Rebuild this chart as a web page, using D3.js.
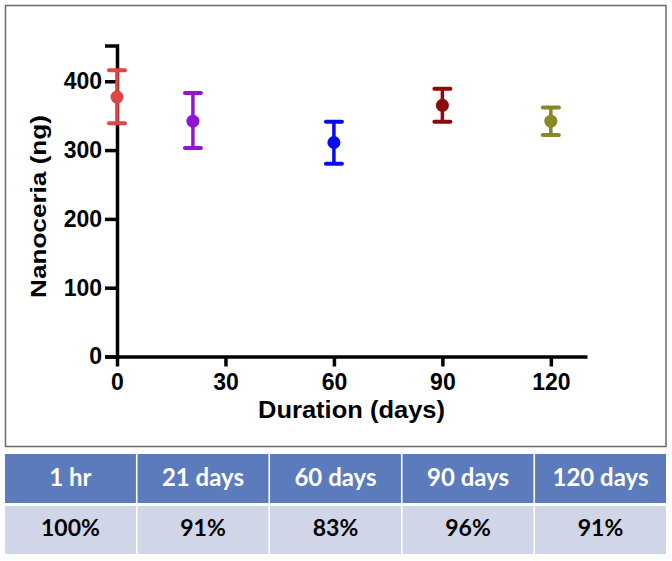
<!DOCTYPE html>
<html>
<head>
<meta charset="utf-8">
<script src="https://cdn.jsdelivr.net/npm/d3@7"></script>
<style>
  body { margin: 0; background: #fff; }
  svg { display: block; }
</style>
</head>
<body>
<div id="chart"></div>
<script>
// data
var days = [0, 21, 60, 90, 120];
var means = [377, 342, 311, 365, 342];
var upper = [416, 383, 341, 389, 362];
var lower = [339, 303, 280, 341, 322];
var colors = ["#dc4646", "#9214d8", "#0a0af0", "#8c0a0a", "#888826"];

var xTicks = [0, 30, 60, 90, 120];
var yTicks = [0, 100, 200, 300, 400];

var tableHeaders = ["1 hr", "21 days", "60 days", "90 days", "120 days"];
var retention = ["100%", "91%", "83%", "96%", "91%"];

var W = 672, H = 561;

var svg = d3.select("#chart")
  .append("svg")
  .attr("width", W)
  .attr("height", H);

// outer frame round the plot
svg.append("rect")
  .attr("x", 5.5)
  .attr("y", 5.5)
  .attr("width", 660.5)
  .attr("height", 441)
  .attr("fill", "#fff")
  .attr("stroke", "#6a6a6a")
  .attr("stroke-width", 1.5);

var x = d3.scaleLinear().domain([0, 130]).range([117, 587]);
var y = d3.scaleLinear().domain([0, 452]).range([356.5, 45.5]);

var font = "'Liberation Sans', Arial, sans-serif";

// y axis
var yAxis = svg.append("g")
  .attr("transform", "translate(" + x(0) + ",0)")
  .call(d3.axisLeft(y).tickValues(yTicks).tickSize(12).tickSizeOuter(12).tickPadding(3));

// x axis
var xAxis = svg.append("g")
  .attr("transform", "translate(0," + y(0) + ")")
  .call(d3.axisBottom(x).tickValues(xTicks).tickSize(10).tickSizeOuter(0).tickPadding(7));

[yAxis, xAxis].forEach(function(a) {
  a.attr("font-size", 23).attr("font-family", font).attr("font-weight", "bold");
  a.selectAll("path, line")
    .attr("stroke", "#000")
    .attr("stroke-width", 3.5);
  a.selectAll("text")
    .attr("fill", "#000");
});

// axis titles
svg.append("text")
  .attr("transform", "translate(46,206.5) rotate(-90)")
  .attr("text-anchor", "middle")
  .attr("textLength", 183)
  .attr("lengthAdjust", "spacingAndGlyphs")
  .style("font-family", font)
  .style("font-weight", "bold")
  .style("font-size", "22px")
  .text("Nanoceria (ng)");

svg.append("text")
  .attr("x", 351.5)
  .attr("y", 418)
  .attr("text-anchor", "middle")
  .attr("textLength", 187)
  .attr("lengthAdjust", "spacingAndGlyphs")
  .style("font-family", font)
  .style("font-weight", "bold")
  .style("font-size", "24px")
  .text("Duration (days)");

// error bars + points
var points = days.map(function(d, i) {
  return { day: d, mean: means[i], hi: upper[i], lo: lower[i], color: colors[i] };
});

var capW = 8;
var g = svg.append("g");

var bars = g.selectAll(".pt")
  .data(points)
  .enter()
  .append("g")
  .attr("class", "pt");

bars.append("line")
  .attr("x1", function(d) { return x(d.day) })
  .attr("x2", function(d) { return x(d.day) })
  .attr("y1", function(d) { return y(d.hi) })
  .attr("y2", function(d) { return y(d.lo) })
  .attr("stroke", function(d) { return d.color })
  .attr("stroke-width", 3.5);

["hi", "lo"].forEach(function(k) {
  bars.append("line")
    .attr("x1", function(d) { return x(d.day) - capW })
    .attr("x2", function(d) { return x(d.day) + capW })
    .attr("y1", function(d) { return y(d[k]) })
    .attr("y2", function(d) { return y(d[k]) })
    .attr("stroke", function(d) { return d.color })
    .attr("stroke-width", 4)
    .attr("stroke-linecap", "round");
});

bars.append("circle")
  .attr("cx", function(d) { return x(d.day) })
  .attr("cy", function(d) { return y(d.mean) })
  .attr("r", 6.5)
  .attr("fill", function(d) { return d.color });

// table below
var col = d3.scaleBand()
  .domain(tableHeaders)
  .range([5, 666])
  .paddingInner(0.012);

var tfont = "Lato, 'Open Sans', sans-serif";

var rows = [
  { top: 454, h: 49, fill: "#5b7bbd", color: "#fff", weight: "bold", size: "24px", vals: tableHeaders, base: 486 },
  { top: 506, h: 48, fill: "#d0d6e8", color: "#000", weight: "bold", size: "23px", vals: retention, base: 536 }
];

rows.forEach(function(r) {
  var cells = svg.append("g").selectAll("g")
    .data(tableHeaders)
    .enter()
    .append("g");

  cells.append("rect")
    .attr("x", function(d) { return col(d) })
    .attr("y", r.top)
    .attr("width", col.bandwidth())
    .attr("height", r.h)
    .attr("fill", r.fill);

  cells.append("text")
    .attr("x", function(d) { return col(d) + col.bandwidth() / 2 })
    .attr("y", r.base)
    .attr("text-anchor", "middle")
    .attr("fill", r.color)
    .style("font-family", tfont)
    .style("font-size", r.size)
    .style("font-weight", r.weight)
    .text(function(d, i) { return r.vals[i] });
});
</script>
</body>
</html>
